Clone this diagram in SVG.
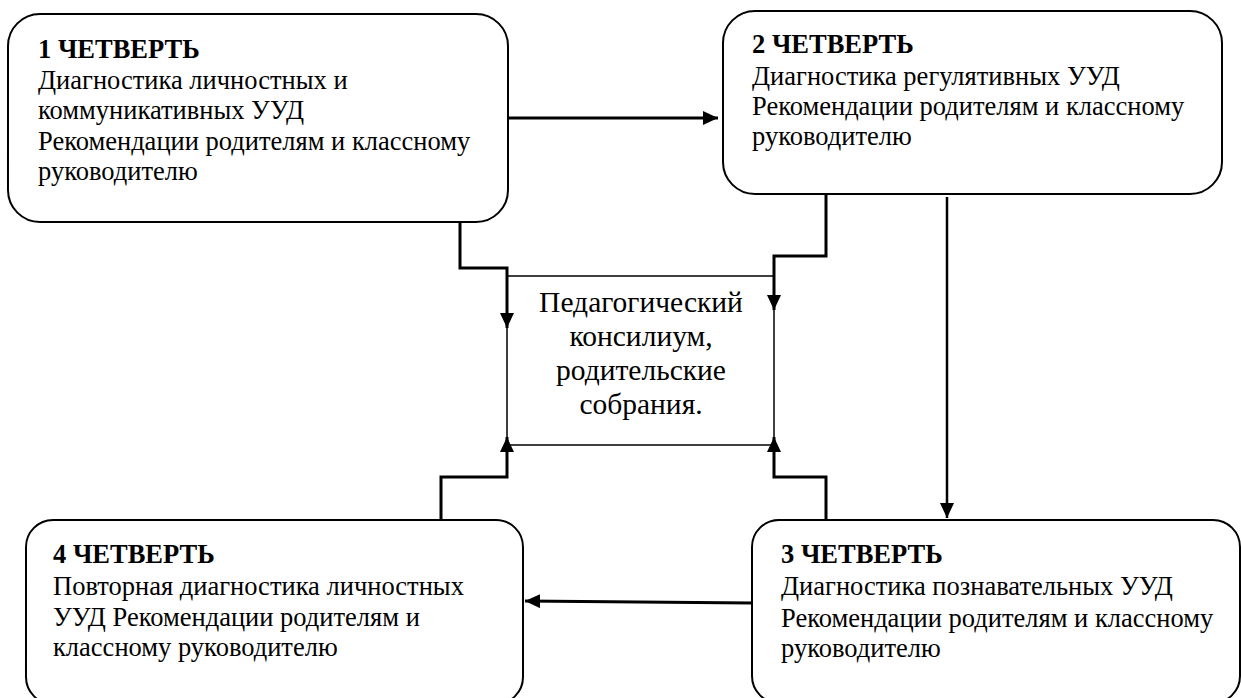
<svg xmlns="http://www.w3.org/2000/svg" width="1241" height="698" viewBox="0 0 1241 698">
<style>
.box{fill:#fff;stroke:#000;stroke-width:2}
.t{font-family:'Liberation Serif','Times New Roman',serif;font-size:26.5px;fill:#000}
.h{font-weight:bold}
.c{font-family:'Liberation Serif','Times New Roman',serif;font-size:29.5px;fill:#000;text-anchor:middle}
.ln{fill:none;stroke:#000;stroke-width:3}
</style>
<defs>
<marker id="ah" viewBox="0 0 15 14" refX="15" refY="7" markerWidth="15" markerHeight="14" markerUnits="userSpaceOnUse" orient="auto">
<path d="M0,0 L15,7 L0,14 Z" fill="#000"/>
</marker>
</defs>
<g id="center">
<rect x="507" y="276" width="267" height="169" fill="#fff" stroke="#000" stroke-width="1.5"/>
<text class="c"><tspan x="641" y="312">Педагогический</tspan><tspan x="641" y="346">консилиум,</tspan><tspan x="641" y="380">родительские</tspan><tspan x="641" y="414">собрания.</tspan></text>
</g>
<g id="q1">
<rect class="box" x="8" y="14" width="500" height="208" rx="32" ry="32"/>
<text class="t"><tspan class="h" x="38" y="58">1 ЧЕТВЕРТЬ</tspan><tspan x="38" y="89">Диагностика личностных и</tspan><tspan x="38" y="119">коммуникативных УУД</tspan><tspan x="38" y="150">Рекомендации родителям и классному</tspan><tspan x="38" y="180">руководителю</tspan></text>
</g>
<g id="q2">
<rect class="box" x="723" y="11" width="499" height="183" rx="32" ry="32"/>
<text class="t"><tspan class="h" x="752" y="53">2 ЧЕТВЕРТЬ</tspan><tspan x="752" y="85">Диагностика регулятивных УУД</tspan><tspan x="752" y="115">Рекомендации родителям и классному</tspan><tspan x="752" y="145">руководителю</tspan></text>
</g>
<g id="q4">
<rect class="box" x="26" y="520" width="497" height="184" rx="27" ry="27"/>
<text class="t"><tspan class="h" x="53" y="563">4 ЧЕТВЕРТЬ</tspan><tspan x="53" y="595">Повторная диагностика личностных</tspan><tspan x="53" y="626">УУД Рекомендации родителям и</tspan><tspan x="53" y="656">классному руководителю</tspan></text>
</g>
<g id="q3">
<rect class="box" x="752" y="520" width="488" height="183" rx="27" ry="27"/>
<text class="t"><tspan class="h" x="781" y="563">3 ЧЕТВЕРТЬ</tspan><tspan x="781" y="595">Диагностика познавательных УУД</tspan><tspan x="781" y="627">Рекомендации родителям и классному</tspan><tspan x="781" y="657">руководителю</tspan></text>
</g>
<g id="connectors">
<path class="ln" d="M508,118 L718,118" marker-end="url(#ah)"/>
<path class="ln" d="M460,222 L460,268 L507,268 L507,328" marker-end="url(#ah)"/>
<path class="ln" d="M826,194 L826,256 L774,256 L774,310" marker-end="url(#ah)"/>
<path class="ln" d="M947,197 L947,518" marker-end="url(#ah)" style="stroke-width:2.5"/>
<path class="ln" d="M752,603 L525,601" marker-end="url(#ah)"/>
<path class="ln" d="M441,520 L441,477 L507,477 L507,437" marker-end="url(#ah)"/>
<path class="ln" d="M826,520 L826,477 L774,477 L774,437" marker-end="url(#ah)"/>
</g>
</svg>
